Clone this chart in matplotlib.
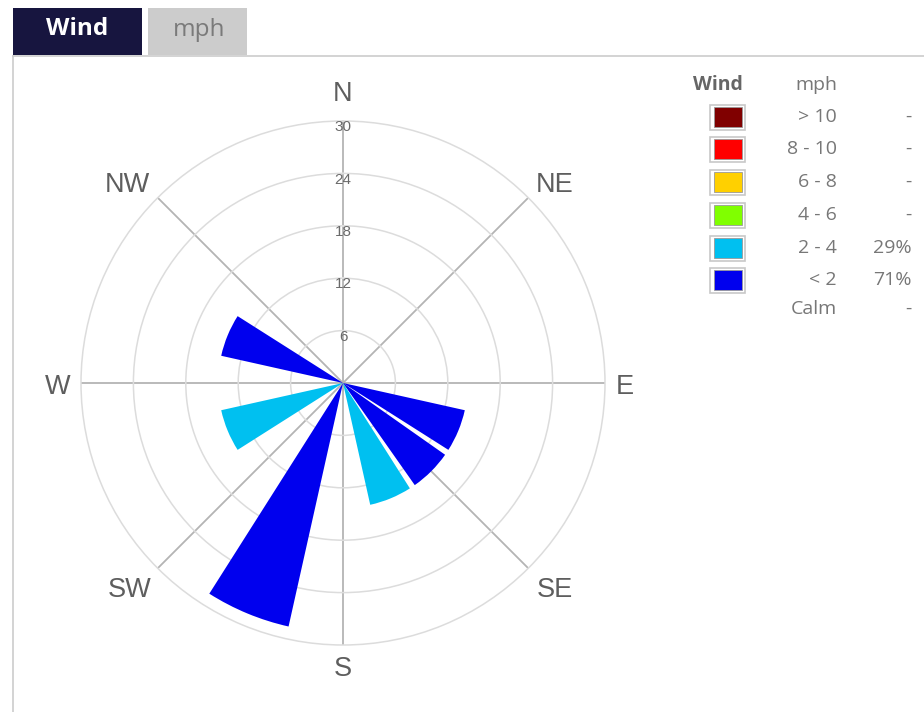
import numpy as np
import matplotlib
matplotlib.use("Agg")
import matplotlib.pyplot as plt
from matplotlib.patches import Rectangle

# ---- data ----
directions = ["N", "NNE", "NE", "ENE", "E", "ESE", "SE", "SSE",
              "S", "SSW", "SW", "WSW", "W", "WNW", "NW", "NNW"]
speed_lt2 = [0, 0, 0, 0, 0, 14.29, 14.29, 0, 0, 28.57, 0, 0, 0, 14.29, 0, 0]
speed_2_4 = [0, 0, 0, 0, 0, 0, 0, 14.29, 0, 0, 0, 14.29, 0, 0, 0, 0]
compass_labels = ["N", "NE", "E", "SE", "S", "SW", "W", "NW"]
ring_values = [6, 12, 18, 24, 30]
legend_labels = ["> 10", "8 - 10", "6 - 8", "4 - 6", "2 - 4", "< 2", "Calm"]
legend_pcts = ["-", "-", "-", "-", "29%", "71%", "-"]
legend_colors = ["#800000", "#ff0000", "#ffd000", "#80ff00", "#00c0f0", "#0000ee", None]

# label offsets (px) from the outer ring, styling only
label_offsets = [(0, 27), (26, 13), (20, -3.5), (27, -22),
                 (0, -24), (-28, -22), (-23.5, -4), (-30, 13)]

W, H = 924, 712
fig = plt.figure(figsize=(W / 100, H / 100), dpi=100)
fig.patch.set_facecolor("white")

# overlay axes in pixel coordinates for header & legend
ov = fig.add_axes([0, 0, 1, 1])
ov.set_xlim(0, W)
ov.set_ylim(H, 0)
ov.axis("off")

# tabs
ov.add_patch(Rectangle((13, 8), 129, 47, facecolor="#17153f", edgecolor="none"))
ov.add_patch(Rectangle((148, 8), 99, 47, facecolor="#cccccc", edgecolor="none"))
ov.text(77, 29, "Wind", color="white", fontsize=17.5, fontweight="bold",
        ha="center", va="center", family="Open Sans")
ov.text(199, 30, "mph", color="#7a7a7a", fontsize=17.5,
        ha="center", va="center", family="Open Sans")
ov.plot([13, W], [56, 56], color="#cccccc", lw=1.2)
ov.plot([13, 13], [56, H], color="#cccccc", lw=1.2)

# legend
lf = "Open Sans"
lfs = 14
ov.text(718, 85, "Wind", color="#666666", fontsize=lfs, fontweight="bold",
        ha="center", va="center", family=lf)
ov.text(837, 85, "mph", color="#777777", fontsize=lfs,
        ha="right", va="center", family=lf)
row_y = [117, 149, 182, 215, 248, 280, 309]
for y, lab, pct, col in zip(row_y, legend_labels, legend_pcts, legend_colors):
    if col is not None:
        ov.add_patch(Rectangle((710, y - 12.5), 35, 25, facecolor="white",
                               edgecolor="#c8c8c8", lw=1.2))
        ov.add_patch(Rectangle((713.5, y - 10), 28, 20, facecolor=col,
                               edgecolor="#999999", lw=0.6))
    ov.text(837, y, lab, color="#777777", fontsize=lfs, ha="right",
            va="center", family=lf)
    ov.text(912, y, pct, color="#777777", fontsize=lfs, ha="right",
            va="center", family=lf)

# polar chart
cx, cy, R = 343, 383, 262
ax = fig.add_axes([(cx - R) / W, (H - cy - R) / H, 2 * R / W, 2 * R / H],
                  projection="polar")
ax.set_theta_zero_location("N")
ax.set_theta_direction(-1)
ax.set_ylim(0, 30)
ax.set_facecolor("none")
ax.set_axisbelow(True)

theta = np.deg2rad(np.arange(len(directions)) * 22.5)
width = np.deg2rad(19.8)
ax.bar(theta, speed_lt2, width=width, color="#0000ee", edgecolor="none",
       zorder=3)
ax.bar(theta, speed_2_4, width=width, bottom=speed_lt2, color="#00c0f0",
       edgecolor="none", zorder=3)

ax.set_xticks(np.deg2rad(np.arange(0, 360, 45)))
ax.set_xticklabels([])
ax.set_yticks(ring_values[:-1])
ax.set_yticklabels([])
ax.xaxis.grid(True, color="#b4b4b4", lw=1.3)
ax.yaxis.grid(True, color="#dcdcdc", lw=1.1)
ax.spines["polar"].set_color("#dcdcdc")
ax.spines["polar"].set_linewidth(1.1)
ax.tick_params(length=0)

for ang, lab, (ox, oy) in zip(np.arange(0, 360, 45), compass_labels, label_offsets):
    ax.annotate(lab, xy=(np.deg2rad(ang), 30), xycoords="data",
                xytext=(ox * 0.72, oy * 0.72), textcoords="offset points",
                ha="center", va="center", fontsize=19.5, color="#5e5e5e",
                family="Liberation Sans", annotation_clip=False)
for rv in ring_values:
    ax.text(0, rv - 0.7, str(rv), ha="center", va="center", fontsize=11,
            color="#6a6a6a", family="Liberation Sans", zorder=4)

fig.savefig("out.png", dpi=100)
